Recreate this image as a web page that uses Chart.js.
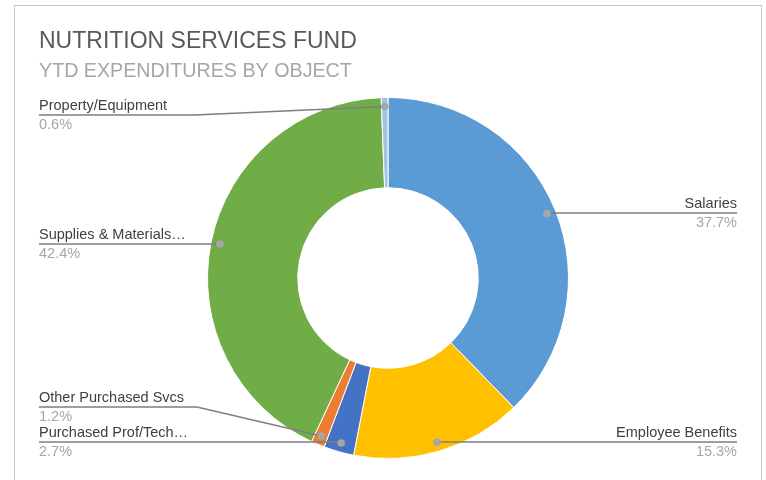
<!DOCTYPE html>
<html>
<head>
<meta charset="utf-8">
<title>Nutrition Services Fund</title>
<script src="https://cdn.jsdelivr.net/npm/chart.js@4/dist/chart.umd.min.js"></script>
<style>
  html, body { margin: 0; padding: 0; background: #ffffff; }
  #wrap { width: 766px; height: 480px; }
</style>
</head>
<body>
<div id="wrap"><canvas id="fund" width="766" height="480"></canvas></div>
<script>
// Expenditure objects, clockwise from 12 o'clock
const categories = [
  'Salaries',
  'Employee Benefits',
  'Purchased Prof/Tech\u2026',
  'Other Purchased Svcs',
  'Supplies & Materials\u2026',
  'Property/Equipment'
];
// Share of year-to-date expenditures, percent
const shares = [37.7, 15.3, 2.7, 1.2, 42.4, 0.6];
const sliceColors = ['#5B9BD5', '#FFC000', '#4472C4', '#ED7D31', '#70AD47', '#9DC3E6'];

const titleText = 'NUTRITION SERVICES FUND';
const subtitleText = 'YTD EXPENDITURES BY OBJECT';

const FONT = '"Liberation Sans", Arial, Helvetica, sans-serif';

// Where each callout sits: side, text anchor x, underline y, optional elbow x
const calloutLayout = [
  { side: 'right', x: 737, y: 213 },
  { side: 'right', x: 737, y: 442 },
  { side: 'left',  x: 39,  y: 442 },
  { side: 'left',  x: 39,  y: 407, elbow: 197 },
  { side: 'left',  x: 39,  y: 244 },
  { side: 'left',  x: 39,  y: 115, elbow: 195 }
];

// Outer frame plus the two title lines
const framePlugin = {
  id: 'frame',
  beforeDraw(chart) {
    const ctx = chart.ctx;
    ctx.save();
    ctx.fillStyle = '#ffffff';
    ctx.fillRect(0, 0, chart.width, chart.height);
    ctx.strokeStyle = '#c9c9c9';
    ctx.lineWidth = 1;
    ctx.strokeRect(14.5, 5.5, 747, 500);
    ctx.textBaseline = 'alphabetic';
    ctx.textAlign = 'left';
    ctx.fillStyle = '#595959';
    ctx.font = '23px ' + FONT;
    ctx.fillText(titleText, 39, 47.5);
    ctx.fillStyle = '#a6a6a6';
    ctx.font = '19.7px ' + FONT;
    ctx.fillText(subtitleText, 39, 77);
    ctx.restore();
  }
};

// Category / percent callouts with leader lines ending in a dot on each slice
const calloutPlugin = {
  id: 'callouts',
  afterDatasetsDraw(chart) {
    const ctx = chart.ctx;
    const meta = chart.getDatasetMeta(0);
    const values = chart.data.datasets[0].data;
    ctx.save();
    meta.data.forEach((arc, i) => {
      const p = arc.getProps(['x', 'y', 'startAngle', 'endAngle', 'outerRadius'], true);
      const mid = (p.startAngle + p.endAngle) / 2;
      const r = p.outerRadius * 0.95;
      const dx = p.x + Math.cos(mid) * r;
      const dy = p.y + Math.sin(mid) * r;
      const lay = calloutLayout[i];

      // leader line
      ctx.strokeStyle = '#7f7f7f';
      ctx.lineWidth = 1.5;
      ctx.beginPath();
      ctx.moveTo(lay.x, lay.y);
      ctx.lineTo(lay.elbow !== undefined ? lay.elbow : dx, lay.y);
      ctx.lineTo(dx, dy);
      ctx.stroke();

      // dot
      ctx.fillStyle = '#a6a6a6';
      ctx.beginPath();
      ctx.arc(dx, dy, 3.8, 0, Math.PI * 2);
      ctx.fill();

      // texts
      ctx.textAlign = lay.side === 'right' ? 'right' : 'left';
      ctx.textBaseline = 'alphabetic';
      ctx.font = '14.5px ' + FONT;
      ctx.fillStyle = '#404040';
      ctx.fillText(chart.data.labels[i], lay.x, lay.y - 5);
      ctx.fillStyle = '#a6a6a6';
      ctx.fillText(values[i].toFixed(1) + '%', lay.x, lay.y + 14);
    });
    ctx.restore();
  }
};

new Chart(document.getElementById('fund'), {
  type: 'doughnut',
  data: {
    labels: categories,
    datasets: [{
      data: shares,
      backgroundColor: sliceColors,
      borderColor: '#ffffff',
      borderWidth: 1,
      hoverOffset: 0
    }]
  },
  options: {
    responsive: false,
    animation: false,
    devicePixelRatio: 1,
    cutout: '50%',
    events: [],
    layout: { padding: { top: 97, bottom: 21, left: 10, right: 0 } },
    plugins: {
      legend: { display: false },
      title: { display: false },
      tooltip: { enabled: false }
    }
  },
  plugins: [framePlugin, calloutPlugin]
});
</script>
</body>
</html>
